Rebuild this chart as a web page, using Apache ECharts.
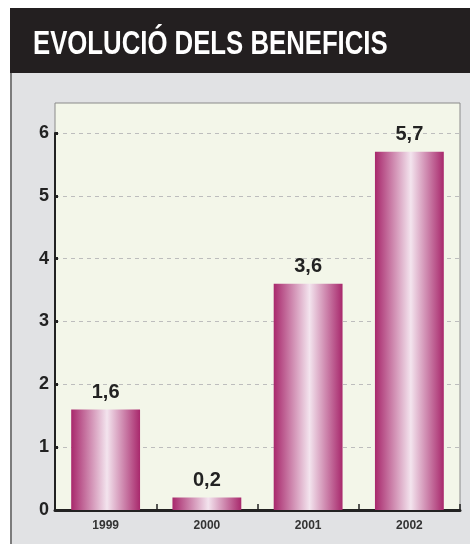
<!DOCTYPE html>
<html>
<head>
<meta charset="utf-8">
<script src="https://cdn.jsdelivr.net/npm/echarts@6/dist/echarts.min.js"></script>
<style>
  html, body { margin: 0; padding: 0; background: #fff; }
  #chart { width: 470px; height: 544px; }
</style>
</head>
<body>
<div id="chart"></div>
<script>
// values
const years = ['1999', '2000', '2001', '2002'];
const beneficis = [1.6, 0.2, 3.6, 5.7];
const yTicks = [0, 1, 2, 3, 4, 5, 6];

const chart = echarts.init(document.getElementById('chart'));

const barFill = new echarts.graphic.LinearGradient(0, 0, 1, 0, [
    { offset: 0, color: '#a8286c' },
    { offset: 0.52, color: '#f3e4ee' },
    { offset: 1, color: '#a8286c' }
]);

const option = {
    backgroundColor: '#fff',
    animation: false,
    graphic: [
        // grey panel
        { type: 'rect', shape: { x: 10, y: 72, width: 460, height: 472 }, style: { fill: '#e1e2e4' }, z: -10 },
        { type: 'line', shape: { x1: 11, y1: 72, x2: 11, y2: 544 }, style: { stroke: '#5a5a5a', lineWidth: 1.5 }, z: -9 },
        // header band
        { type: 'rect', shape: { x: 10, y: 8, width: 460, height: 65 }, style: { fill: '#231f20' }, z: -9 },
        {
            // condensed bold title: squeeze a bold sans horizontally
            type: 'text', x: 33, y: 28, scaleX: 0.78, z: 5,
            style: {
                x: 0, y: 0,
                text: 'EVOLUCIÓ DELS BENEFICIS', fill: '#fff',
                verticalAlign: 'top',
                font: 'bold 33px "Liberation Sans", Arial, sans-serif'
            }
        },
        // plot box
        { type: 'rect', shape: { x: 55, y: 103, width: 405, height: 407 }, style: { fill: '#f3f6e9', stroke: '#8a8a8a', lineWidth: 1 }, z: -8 }
    ],
    grid: { left: 55, right: 10, top: 133, bottom: 34, containLabel: false },
    xAxis: {
        type: 'category',
        data: years,
        axisLine: { lineStyle: { color: '#222', width: 3 } },
        axisTick: { show: true, inside: true, length: 6, lineStyle: { color: '#222', width: 1.5 } },
        axisLabel: {
            color: '#333', fontWeight: 'bold', fontSize: 12, margin: 10,
            fontFamily: '"Liberation Sans", Arial, sans-serif'
        }
    },
    yAxis: {
        type: 'value',
        min: yTicks[0], max: yTicks[yTicks.length - 1], interval: 1,
        axisLine: { show: true, lineStyle: { color: '#222', width: 2 } },
        axisTick: { show: true, inside: true, length: 3, lineStyle: { color: '#222', width: 3 } },
        splitLine: { show: true, lineStyle: { color: '#bdbdbd', type: [4, 4], width: 1 } },
        axisLabel: {
            color: '#222', fontWeight: 'bold', fontSize: 18, margin: 6,
            fontFamily: '"Liberation Sans", Arial, sans-serif'
        }
    },
    series: [{
        type: 'bar',
        data: beneficis,
        barWidth: '68%',
        itemStyle: { color: barFill },
        label: {
            show: true, position: 'top', distance: 7,
            color: '#222', fontWeight: 'bold', fontSize: 20,
            fontFamily: '"Liberation Sans", Arial, sans-serif',
            formatter: p => String(p.value).replace('.', ',')
        }
    }]
};

chart.setOption(option);
</script>
</body>
</html>
